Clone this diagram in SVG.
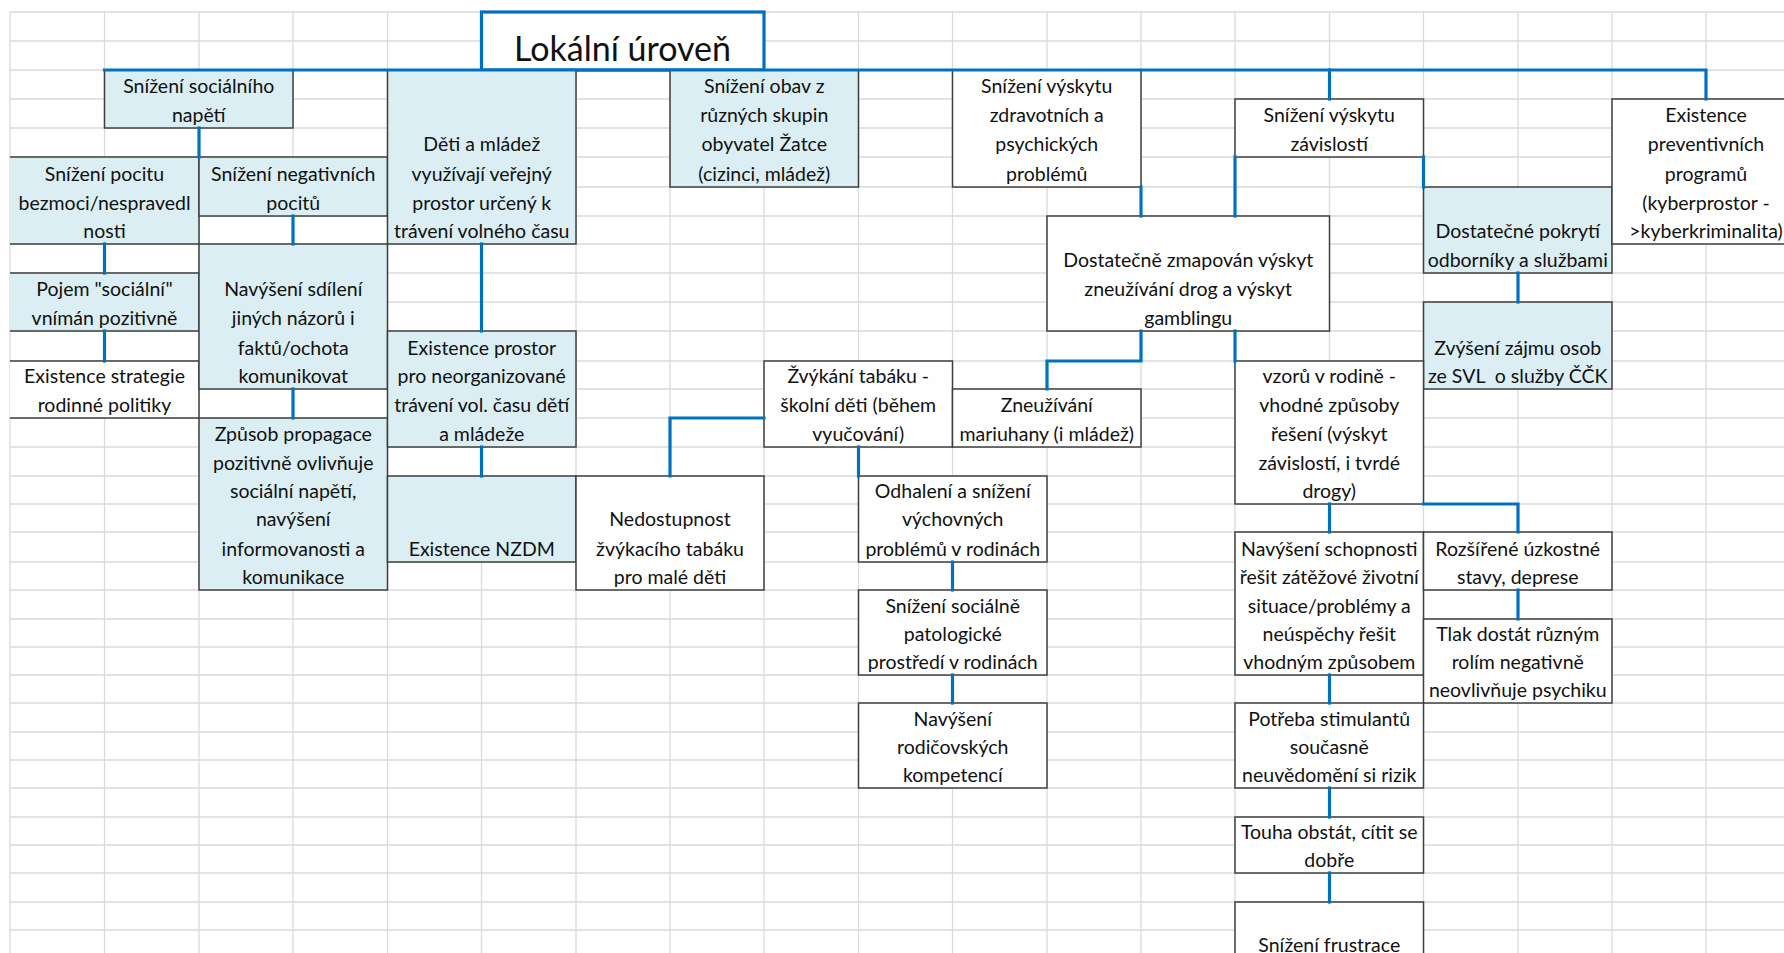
<svg xmlns="http://www.w3.org/2000/svg" width="1784" height="953" viewBox="0 0 1784 953">
<style>
.grid line{stroke:#dadada;stroke-width:1.3}
.box{stroke:#3f3f3f;stroke-width:1.5}
.nb{stroke:none}
.edge{stroke:#3f3f3f;stroke-width:1.5;fill:none}
.bl{fill:#daeef3}
.wh{fill:#ffffff}
.conn path{stroke:#0070c0;stroke-width:3.2;fill:none;stroke-linecap:square}
text{font-family:Lato,"Liberation Sans",sans-serif;font-size:19.5px;fill:#111;text-anchor:middle}
.title{font-size:34px}
</style>
<rect width="1784" height="953" fill="#fff"/>
<g class="grid" id="grid">
<line x1="10" y1="12" x2="10" y2="953"/><line x1="104.5" y1="12" x2="104.5" y2="953"/><line x1="199" y1="12" x2="199" y2="953"/><line x1="293" y1="12" x2="293" y2="953"/><line x1="387.5" y1="12" x2="387.5" y2="953"/><line x1="481.5" y1="12" x2="481.5" y2="953"/><line x1="576" y1="12" x2="576" y2="953"/><line x1="670" y1="12" x2="670" y2="953"/><line x1="764" y1="12" x2="764" y2="953"/><line x1="858.5" y1="12" x2="858.5" y2="953"/><line x1="952.5" y1="12" x2="952.5" y2="953"/><line x1="1047" y1="12" x2="1047" y2="953"/><line x1="1141" y1="12" x2="1141" y2="953"/><line x1="1235" y1="12" x2="1235" y2="953"/><line x1="1329.5" y1="12" x2="1329.5" y2="953"/><line x1="1423.5" y1="12" x2="1423.5" y2="953"/><line x1="1518" y1="12" x2="1518" y2="953"/><line x1="1612" y1="12" x2="1612" y2="953"/><line x1="1706" y1="12" x2="1706" y2="953"/>
<line x1="10" y1="12" x2="1784" y2="12"/><line x1="10" y1="41" x2="1784" y2="41"/><line x1="10" y1="70" x2="1784" y2="70"/><line x1="10" y1="99" x2="1784" y2="99"/><line x1="10" y1="128" x2="1784" y2="128"/><line x1="10" y1="157" x2="1784" y2="157"/><line x1="10" y1="187" x2="1784" y2="187"/><line x1="10" y1="216" x2="1784" y2="216"/><line x1="10" y1="244" x2="1784" y2="244"/><line x1="10" y1="273" x2="1784" y2="273"/><line x1="10" y1="302" x2="1784" y2="302"/><line x1="10" y1="331" x2="1784" y2="331"/><line x1="10" y1="361" x2="1784" y2="361"/><line x1="10" y1="389" x2="1784" y2="389"/><line x1="10" y1="418" x2="1784" y2="418"/><line x1="10" y1="447" x2="1784" y2="447"/><line x1="10" y1="476" x2="1784" y2="476"/><line x1="10" y1="504" x2="1784" y2="504"/><line x1="10" y1="532" x2="1784" y2="532"/><line x1="10" y1="562" x2="1784" y2="562"/><line x1="10" y1="590" x2="1784" y2="590"/><line x1="10" y1="619" x2="1784" y2="619"/><line x1="10" y1="647" x2="1784" y2="647"/><line x1="10" y1="675" x2="1784" y2="675"/><line x1="10" y1="703" x2="1784" y2="703"/><line x1="10" y1="732" x2="1784" y2="732"/><line x1="10" y1="760" x2="1784" y2="760"/><line x1="10" y1="788" x2="1784" y2="788"/><line x1="10" y1="817" x2="1784" y2="817"/><line x1="10" y1="845" x2="1784" y2="845"/><line x1="10" y1="873" x2="1784" y2="873"/><line x1="10" y1="902" x2="1784" y2="902"/><line x1="10" y1="930" x2="1784" y2="930"/>
</g>

<g id="title">
<rect x="481.5" y="12" width="282.5" height="58" fill="#fff" stroke="#0070c0" stroke-width="3.2"/>
<text class="title" x="622.5" y="61">Lokální úroveň</text>
</g>

<g id="snizeni-socialniho"><rect class="box bl" x="104.5" y="70" width="188.5" height="58"/>
<text x="198.75" y="92.5">Snížení sociálního</text><text x="198.75" y="121.5">napětí</text></g>

<g id="pocit-bezmoci"><rect class="nb bl" x="10" y="157" width="189" height="87"/><path class="edge" d="M10,157H199V244H10"/>
<text x="104.5" y="180.5">Snížení pocitu</text><text x="104.5" y="209.5">bezmoci/nespravedl</text><text x="104.5" y="237.5">nosti</text></g>

<g id="negativni-pocity"><rect class="box bl" x="199" y="157" width="188.5" height="59"/>
<text x="293.25" y="180.5">Snížení negativních</text><text x="293.25" y="209.5">pocitů</text></g>

<g id="pojem"><rect class="nb bl" x="10" y="273" width="189" height="58"/><path class="edge" d="M10,273H199V331H10"/>
<text x="104.5" y="295.5">Pojem "sociální"</text><text x="104.5" y="324.5">vnímán pozitivně</text></g>

<g id="strategie"><rect class="nb wh" x="10" y="361" width="189" height="57"/><path class="edge" d="M10,361H199V418H10"/>
<text x="104.5" y="382.5">Existence strategie</text><text x="104.5" y="411.5">rodinné politiky</text></g>

<g id="sdileni"><rect class="box bl" x="199" y="244" width="188.5" height="145"/>
<text x="293.25" y="295.5">Navýšení sdílení</text><text x="293.25" y="324.5">jiných názorů i</text><text x="293.25" y="354.5">faktů/ochota</text><text x="293.25" y="382.5">komunikovat</text></g>

<g id="propagace"><rect class="box bl" x="199" y="418" width="188.5" height="172"/>
<text x="293.25" y="440.5">Způsob propagace</text><text x="293.25" y="469.5">pozitivně ovlivňuje</text><text x="293.25" y="497.5">sociální napětí,</text><text x="293.25" y="525.5">navýšení</text><text x="293.25" y="555.5">informovanosti a</text><text x="293.25" y="583.5">komunikace</text></g>

<g id="deti"><rect class="box bl" x="387.5" y="70" width="188.5" height="174"/>
<text x="481.75" y="150.5">Děti a mládež</text><text x="481.75" y="180.5">využívají veřejný</text><text x="481.75" y="209.5">prostor určený k</text><text x="481.75" y="237.5">trávení volného času</text></g>

<g id="prostor"><rect class="box bl" x="387.5" y="331" width="188.5" height="116"/>
<text x="481.75" y="354.5">Existence prostor</text><text x="481.75" y="382.5">pro neorganizované</text><text x="481.75" y="411.5">trávení vol. času dětí</text><text x="481.75" y="440.5">a mládeže</text></g>

<g id="nzdm"><rect class="box bl" x="387.5" y="476" width="188.5" height="86"/>
<text x="481.75" y="555.5">Existence NZDM</text></g>

<g id="obavy"><rect class="box bl" x="670" y="70" width="188.5" height="117"/>
<text x="764.25" y="92.5">Snížení obav z</text><text x="764.25" y="121.5">různých skupin</text><text x="764.25" y="150.5">obyvatel Žatce</text><text x="764.25" y="180.5">(cizinci, mládež)</text></g>

<g id="zdravotni"><rect class="box wh" x="952.5" y="70" width="188.5" height="117"/>
<text x="1046.75" y="92.5">Snížení výskytu</text><text x="1046.75" y="121.5">zdravotních a</text><text x="1046.75" y="150.5">psychických</text><text x="1046.75" y="180.5">problémů</text></g>

<g id="zmapovan"><rect class="box wh" x="1047" y="216" width="282.5" height="115"/>
<text x="1188.25" y="266.5">Dostatečně zmapován výskyt</text><text x="1188.25" y="295.5">zneužívání drog a výskyt</text><text x="1188.25" y="324.5">gamblingu</text></g>

<g id="zavislosti"><rect class="box wh" x="1235" y="99" width="188.5" height="58"/>
<text x="1329.25" y="121.5">Snížení výskytu</text><text x="1329.25" y="150.5">závislostí</text></g>

<g id="pokryti"><rect class="box bl" x="1423.5" y="187" width="188.5" height="86"/>
<text x="1517.75" y="237.5">Dostatečné pokrytí</text><text x="1517.75" y="266.5">odborníky a službami</text></g>

<g id="preventivni"><rect class="box wh" x="1612" y="99" width="190" height="145"/>
<text x="1706" y="121.5">Existence</text><text x="1706" y="150.5">preventivních</text><text x="1706" y="180.5">programů</text><text x="1706" y="209.5">(kyberprostor -</text><text x="1706" y="237.5">&gt;kyberkriminalita)</text></g>

<g id="zajem"><rect class="box bl" x="1423.5" y="302" width="188.5" height="87"/>
<text x="1517.75" y="354.5">Zvýšení zájmu osob</text><text x="1517.75" y="382.5" xml:space="preserve">ze SVL  o služby ČČK</text></g>

<g id="zvykani"><rect class="box wh" x="764" y="361" width="188.5" height="86"/>
<text x="858.25" y="382.5">Žvýkání tabáku -</text><text x="858.25" y="411.5">školní děti (během</text><text x="858.25" y="440.5">vyučování)</text></g>

<g id="mariuhana"><rect class="box wh" x="952.5" y="389" width="188.5" height="58"/>
<text x="1046.75" y="411.5">Zneužívání</text><text x="1046.75" y="440.5">mariuhany (i mládež)</text></g>

<g id="nedostupnost"><rect class="box wh" x="576" y="476" width="188" height="114"/>
<text x="670" y="525.5">Nedostupnost</text><text x="670" y="555.5">žvýkacího tabáku</text><text x="670" y="583.5">pro malé děti</text></g>

<g id="odhaleni"><rect class="box wh" x="858.5" y="476" width="188.5" height="86"/>
<text x="952.75" y="497.5">Odhalení a snížení</text><text x="952.75" y="525.5">výchovných</text><text x="952.75" y="555.5">problémů v rodinách</text></g>

<g id="patologicke"><rect class="box wh" x="858.5" y="590" width="188.5" height="85"/>
<text x="952.75" y="612.5">Snížení sociálně</text><text x="952.75" y="640.5">patologické</text><text x="952.75" y="668.5">prostředí v rodinách</text></g>

<g id="kompetence"><rect class="box wh" x="858.5" y="703" width="188.5" height="85"/>
<text x="952.75" y="725.5">Navýšení</text><text x="952.75" y="753.5">rodičovských</text><text x="952.75" y="781.5">kompetencí</text></g>

<g id="vzory"><rect class="box wh" x="1235" y="361" width="188.5" height="143"/>
<text x="1329.25" y="382.5">vzorů v rodině -</text><text x="1329.25" y="411.5">vhodné způsoby</text><text x="1329.25" y="440.5">řešení (výskyt</text><text x="1329.25" y="469.5">závislostí, i tvrdé</text><text x="1329.25" y="497.5">drogy)</text></g>

<g id="schopnosti"><rect class="box wh" x="1235" y="532" width="188.5" height="143"/>
<text x="1329.25" y="555.5">Navýšení schopnosti</text><text x="1329.25" y="583.5">řešit zátěžové životní</text><text x="1329.25" y="612.5">situace/problémy a</text><text x="1329.25" y="640.5">neúspěchy řešit</text><text x="1329.25" y="668.5">vhodným způsobem</text></g>

<g id="uzkostne"><rect class="box wh" x="1423.5" y="532" width="188.5" height="58"/>
<text x="1517.75" y="555.5">Rozšířené úzkostné</text><text x="1517.75" y="583.5">stavy, deprese</text></g>

<g id="tlak"><rect class="box wh" x="1423.5" y="619" width="188.5" height="84"/>
<text x="1517.75" y="640.5">Tlak dostát různým</text><text x="1517.75" y="668.5">rolím negativně</text><text x="1517.75" y="696.5">neovlivňuje psychiku</text></g>

<g id="stimulanty"><rect class="box wh" x="1235" y="703" width="188.5" height="85"/>
<text x="1329.25" y="725.5">Potřeba stimulantů</text><text x="1329.25" y="753.5">současně</text><text x="1329.25" y="781.5">neuvědomění si rizik</text></g>

<g id="touha"><rect class="box wh" x="1235" y="817" width="188.5" height="56"/>
<text x="1329.25" y="838.5">Touha obstát, cítit se</text><text x="1329.25" y="866.5">dobře</text></g>

<g id="frustrace"><rect class="box wh" x="1235" y="902" width="188.5" height="80"/>
<text x="1329.25" y="952">Snížení frustrace</text></g>

<g class="conn" id="connectors">
<path d="M104.5,70H1706V99"/>
<path d="M1329.5,70V99"/>
<path d="M199,128V157"/>
<path d="M104.5,244V273"/>
<path d="M104.5,331V361"/>
<path d="M293,216V244"/>
<path d="M293,389V418"/>
<path d="M481.5,244V331"/>
<path d="M481.5,447V476"/>
<path d="M764,418H670V476"/>
<path d="M858.5,447V476"/>
<path d="M952.5,562V590"/>
<path d="M952.5,675V703"/>
<path d="M1141,187V216"/>
<path d="M1235,157V216"/>
<path d="M1423.5,157V187"/>
<path d="M1518,273V302"/>
<path d="M1141,331V361H1047V389"/>
<path d="M1235,331V361"/>
<path d="M1329.5,504V532"/>
<path d="M1423.5,504H1518V532"/>
<path d="M1518,590V619"/>
<path d="M1329.5,675V703"/>
<path d="M1329.5,788V817"/>
<path d="M1329.5,873V902"/>
</g>
</svg>
